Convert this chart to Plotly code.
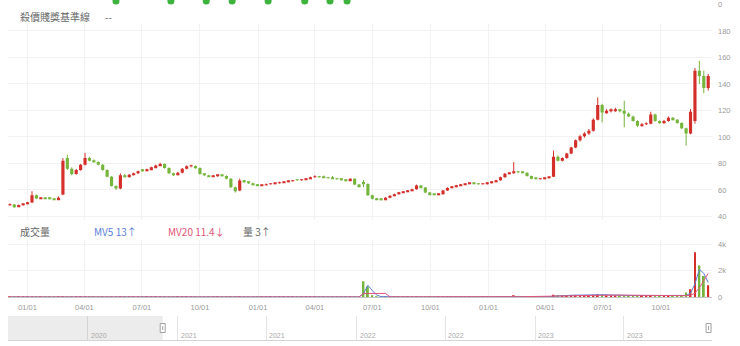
import pandas as pd
import plotly.graph_objects as go

# ---- data -----------------------------------------------------------------
week_dates = pd.date_range("2020-12-04", periods=159, freq="7D")

opens = [
    48.5, 49.0, 47.5, 48.5, 49.3, 50.5, 56.0, 53.5, 53.8, 53.4,
    53.2, 52.8, 56.5, 84.0, 76.0, 72.0, 75.0, 79.0, 84.0, 82.0,
    81.0, 79.0, 75.0, 70.0, 63.0, 61.0, 71.0, 70.0, 71.5, 72.5,
    75.0, 74.5, 75.5, 77.0, 78.5, 79.5, 76.5, 72.5, 71.5, 73.0,
    76.0, 77.8, 78.0, 76.5, 72.0, 71.0, 70.2, 70.5, 71.0, 70.5,
    68.5, 62.0, 59.5, 67.0, 65.8, 65.0, 64.0, 63.3, 63.5, 64.2,
    64.6, 65.0, 65.7, 66.0, 66.5, 67.5, 67.3, 67.8, 68.5, 69.5,
    70.0, 69.6, 69.2, 69.0, 68.6, 68.0, 67.3, 67.0, 68.4, 64.0,
    66.0, 64.5, 56.0, 53.3, 52.8, 52.6, 54.0, 55.6, 56.8, 58.0,
    58.6, 59.3, 60.5, 63.3, 61.8, 58.0, 56.6, 56.3, 56.8, 59.5,
    61.5, 62.3, 63.3, 64.0, 64.6, 65.0, 64.7, 64.3, 64.4, 65.2,
    66.0, 67.2, 69.5, 72.2, 72.6, 73.5, 73.4, 73.0, 70.5, 68.8,
    68.0, 68.4, 69.0, 70.0, 85.0, 82.0, 84.0, 87.5, 92.0, 97.5,
    100.5, 102.5, 104.7, 113.0, 124.0, 118.5, 119.8, 120.0, 120.3, 119.8,
    117.5, 115.5, 112.0, 108.5, 109.5, 110.0, 117.0, 112.0, 110.5, 112.0,
    114.5, 113.0, 110.5, 106.5, 102.5, 112.0, 150.0, 146.0, 137.0,
]
highs = [
    49.8, 49.3, 48.9, 49.6, 51.0, 59.0, 56.5, 54.3, 54.0, 53.8,
    53.5, 55.0, 84.0, 86.5, 77.0, 75.8, 79.6, 88.0, 85.0, 83.0,
    81.5, 79.5, 75.5, 70.5, 63.5, 72.5, 72.0, 72.0, 73.0, 74.5,
    75.6, 76.0, 77.5, 79.0, 80.5, 80.0, 77.0, 73.0, 73.5, 76.5,
    78.5, 79.0, 78.5, 77.0, 72.5, 71.5, 71.0, 71.5, 71.5, 71.0,
    69.0, 62.5, 68.5, 67.5, 66.3, 65.5, 64.5, 64.0, 64.8, 65.0,
    65.5, 66.2, 66.5, 67.0, 67.5, 68.0, 68.3, 69.0, 70.0, 71.0,
    70.5, 70.8, 69.8, 70.5, 69.0, 68.5, 67.8, 68.8, 68.6, 64.5,
    67.5, 65.0, 56.5, 53.8, 53.3, 54.5, 56.0, 57.2, 58.5, 59.0,
    59.8, 61.0, 64.0, 63.8, 62.2, 58.4, 57.0, 57.3, 60.0, 62.0,
    62.8, 63.8, 64.5, 65.0, 65.6, 65.5, 65.0, 64.8, 65.6, 66.5,
    67.6, 70.0, 72.8, 73.2, 81.0, 74.0, 73.8, 73.3, 70.8, 69.0,
    68.9, 69.4, 70.0, 89.7, 86.0, 84.5, 88.0, 92.5, 98.0, 101.5,
    103.5, 106.0, 114.0, 129.8, 125.0, 121.0, 121.5, 122.0, 121.0, 127.3,
    118.5, 116.0, 112.5, 110.5, 111.0, 119.0, 117.5, 112.5, 112.8, 115.5,
    115.0, 113.5, 111.0, 107.0, 121.0, 152.0, 157.4, 150.0, 147.5,
]
lows = [
    48.0, 46.5, 47.2, 48.1, 49.0, 50.2, 53.0, 53.1, 53.0, 52.8,
    52.4, 52.5, 56.0, 75.0, 71.0, 71.5, 74.5, 78.5, 81.5, 80.5,
    78.5, 74.5, 69.5, 62.5, 60.0, 60.5, 69.5, 69.5, 71.0, 72.0,
    73.8, 74.0, 75.0, 76.5, 78.0, 76.0, 72.0, 70.5, 71.0, 72.5,
    75.5, 77.0, 76.0, 71.5, 70.5, 69.8, 69.8, 70.0, 70.0, 68.0,
    61.5, 58.0, 59.0, 65.3, 64.5, 63.5, 63.0, 63.0, 63.2, 64.0,
    64.2, 64.7, 65.4, 65.7, 66.2, 66.8, 67.0, 67.5, 68.2, 69.2,
    69.2, 69.0, 68.7, 68.3, 67.7, 67.0, 66.5, 66.8, 63.5, 62.0,
    62.0, 55.5, 52.8, 52.3, 52.0, 52.3, 53.7, 55.3, 56.5, 57.7,
    58.3, 59.0, 60.2, 61.5, 57.5, 56.3, 55.9, 56.0, 56.5, 59.2,
    61.2, 62.0, 63.0, 63.7, 64.3, 64.3, 63.9, 64.0, 64.1, 64.9,
    65.7, 66.9, 69.2, 71.8, 72.2, 72.8, 72.5, 70.0, 68.0, 68.0,
    67.9, 68.1, 68.7, 69.8, 81.5, 81.5, 83.5, 87.0, 91.5, 96.5,
    99.5, 101.5, 104.0, 112.5, 111.0, 117.5, 118.5, 119.0, 118.5, 107.2,
    115.0, 111.5, 107.5, 108.0, 109.0, 109.5, 111.5, 110.0, 110.0, 111.5,
    112.5, 110.0, 106.0, 93.4, 102.0, 110.0, 140.0, 133.0, 135.0,
]
closes = [
    49.0, 47.5, 48.5, 49.3, 50.5, 56.0, 53.5, 53.8, 53.4, 53.2,
    52.8, 54.0, 82.0, 76.0, 72.0, 75.0, 79.0, 84.0, 82.0, 81.0,
    79.0, 75.0, 70.0, 63.0, 61.0, 71.0, 70.0, 71.5, 72.5, 74.0,
    74.5, 75.5, 77.0, 78.5, 79.5, 76.5, 72.5, 71.5, 73.0, 76.0,
    77.8, 78.0, 76.5, 72.0, 71.0, 70.2, 70.5, 71.0, 70.5, 68.5,
    62.0, 59.0, 67.0, 65.8, 65.0, 64.0, 63.3, 63.5, 64.2, 64.6,
    65.0, 65.7, 66.0, 66.5, 67.0, 67.3, 67.8, 68.5, 69.5, 70.0,
    69.6, 69.2, 69.0, 68.6, 68.0, 67.3, 67.0, 68.4, 64.0, 62.5,
    64.5, 56.0, 53.3, 52.8, 52.6, 54.0, 55.6, 56.8, 58.0, 58.6,
    59.3, 60.5, 63.3, 61.8, 58.0, 56.6, 56.3, 56.8, 59.5, 61.5,
    62.3, 63.3, 64.0, 64.6, 65.0, 64.7, 64.3, 64.4, 65.2, 66.0,
    67.2, 69.5, 72.2, 72.6, 73.5, 73.4, 73.0, 70.5, 68.4, 68.4,
    68.4, 69.0, 69.6, 85.0, 82.0, 84.0, 87.5, 92.0, 97.5, 100.5,
    102.5, 104.7, 113.0, 124.0, 118.5, 119.8, 120.0, 120.3, 119.8, 117.5,
    115.5, 112.0, 108.5, 109.5, 110.0, 117.0, 112.0, 110.5, 112.0, 114.5,
    113.0, 110.5, 106.5, 102.5, 119.0, 150.0, 146.0, 137.0, 146.0,
]

# trading volume (張) and its moving averages
volume = [
    12, 8, 10, 9, 14, 35, 18, 10, 8, 7,
    6, 9, 60, 55, 30, 20, 18, 40, 25, 15,
    14, 18, 22, 30, 25, 45, 20, 12, 10, 11,
    9, 10, 12, 14, 15, 16, 20, 14, 12, 15,
    13, 10, 9, 16, 12, 8, 7, 8, 9, 10,
    18, 22, 35, 15, 10, 9, 8, 7, 8, 9,
    8, 9, 8, 7, 8, 9, 10, 12, 14, 11,
    9, 8, 8, 7, 9, 8, 7, 10, 25, 40,
    1200, 800, 120, 40, 25, 18, 15, 12, 14, 12,
    10, 14, 30, 20, 25, 15, 10, 9, 18, 22,
    15, 12, 14, 12, 10, 9, 8, 9, 12, 15,
    20, 40, 60, 45, 90, 40, 25, 30, 35, 30,
    25, 40, 60, 180, 120, 110, 130, 150, 160, 170,
    150, 140, 180, 220, 190, 150, 120, 110, 100, 160,
    120, 110, 130, 100, 90, 140, 110, 90, 80, 100,
    90, 80, 70, 350, 600, 3400, 2400, 1600, 900,
]
mv5 = [
    10, 10, 10, 10, 11, 15, 17, 17, 17, 16,
    10, 10, 20, 30, 35, 35, 37, 33, 27, 24,
    20, 20, 20, 22, 22, 28, 28, 26, 22, 20,
    12, 10, 11, 11, 12, 13, 15, 16, 15, 15,
    15, 13, 12, 12, 12, 11, 10, 10, 9, 8,
    10, 13, 18, 20, 20, 18, 15, 10, 9, 9,
    8, 8, 8, 8, 8, 8, 8, 9, 10, 11,
    11, 11, 10, 9, 8, 8, 8, 8, 12, 18,
    260, 900, 500, 150, 40, 25, 20, 16, 14, 13,
    12, 12, 16, 18, 22, 20, 18, 14, 12, 14,
    14, 14, 14, 13, 12, 11, 10, 10, 10, 11,
    13, 20, 30, 40, 55, 50, 45, 40, 35, 30,
    30, 32, 38, 70, 100, 120, 130, 140, 150, 160,
    160, 155, 160, 180, 190, 180, 160, 140, 120, 130,
    130, 120, 120, 115, 110, 115, 115, 110, 100, 95,
    95, 90, 80, 130, 300, 1000, 2100, 1800, 1100,
]
mv20 = [
    11, 11, 11, 11, 11, 12, 12, 13, 13, 13,
    13, 13, 15, 18, 20, 21, 22, 23, 24, 24,
    24, 24, 24, 24, 24, 25, 25, 24, 23, 22,
    20, 19, 18, 17, 16, 15, 15, 15, 14, 14,
    14, 14, 13, 13, 13, 13, 12, 12, 11, 11,
    12, 12, 13, 13, 13, 13, 13, 12, 12, 11,
    11, 10, 10, 9, 9, 9, 9, 9, 9, 9,
    9, 9, 9, 9, 9, 9, 9, 9, 10, 11,
    280, 290, 290, 290, 285, 280, 20, 18, 16, 15,
    14, 13, 13, 14, 15, 15, 15, 15, 15, 15,
    15, 15, 14, 14, 13, 13, 12, 12, 12, 12,
    12, 14, 18, 22, 28, 32, 34, 36, 38, 40,
    40, 42, 45, 55, 65, 75, 85, 95, 105, 115,
    125, 135, 140, 150, 155, 160, 160, 158, 155, 150,
    145, 140, 135, 130, 125, 120, 118, 115, 112, 110,
    108, 105, 100, 110, 140, 300, 700, 1200, 1800,
]

# signal markers of the strip above the price panel
signal_dates = ["2021-05-21", "2021-08-16", "2021-10-11", "2021-11-21",
                "2022-01-17", "2022-03-16", "2022-04-25", "2022-05-22"]
signal_level = 1.0

price_ticks = [40, 60, 80, 100, 120, 140, 160, 180]
vol_ticks = [0, 2000, 4000]
vol_tick_text = ["0", "2k", "4k"]
quarter_ticks = ["2021-01-01", "2021-04-01", "2021-07-01", "2021-10-01",
                 "2022-01-01", "2022-04-01", "2022-07-01", "2022-10-01",
                 "2023-01-01", "2023-04-01", "2023-07-01", "2023-10-01"]
nav_ticks = ["2020-07-01", "2021-01-01", "2021-07-01", "2022-01-01",
             "2022-07-01", "2023-01-01", "2023-07-01"]
nav_tick_text = ["2020", "2021", "2021", "2022", "2022", "2023", "2023"]

view_start, view_end = "2020-12-01", "2023-12-21"
nav_start, nav_end = "2020-01-20", "2023-12-28"

# ---- styling --------------------------------------------------------------
UP = "#d42f2b"
DOWN = "#76b53d"
MV5_COLOR = "#5b7fd8"
MV20_COLOR = "#e0557a"
GRID = "#f2f2f2"
LATIN = "Liberation Sans, Arial, sans-serif"
TICK_FONT = dict(family=LATIN, size=7.5, color="#9a9a9a")
CJK = "Noto Sans CJK TC, Noto Sans CJK SC, sans-serif"
DAY_MS = 86400000
PAPER_H = 341  # drawable height used to place panels by pixel row


def frac(px):
    """Paper fraction for a pixel row measured from the top."""
    return 1 - px / PAPER_H


is_up = [c >= o for o, c in zip(opens, closes)]
candle_colors = [UP if u else DOWN for u in is_up]
body_base = [min(o, c) for o, c in zip(opens, closes)]
body_size = [max(abs(c - o), 0.45) for o, c in zip(opens, closes)]

fig = go.Figure()

# candle wicks, one polyline per colour with gaps between candles
for want_up, color in ((True, UP), (False, DOWN)):
    wx, wy = [], []
    for d, lo, hi, u in zip(week_dates, lows, highs, is_up):
        if u == want_up:
            wx += [d, d, None]
            wy += [lo, hi, None]
    fig.add_trace(go.Scatter(
        x=wx, y=wy, mode="lines", line=dict(color=color, width=1),
        xaxis="x", yaxis="y", showlegend=False, hoverinfo="skip",
    ))

# candle bodies
fig.add_trace(go.Bar(
    x=week_dates, y=body_size, base=body_base, width=5 * DAY_MS,
    marker=dict(color=candle_colors, line=dict(width=0)),
    xaxis="x", yaxis="y", showlegend=False, hoverinfo="skip",
))

# volume panel
fig.add_trace(go.Bar(
    x=week_dates, y=volume, marker=dict(color=candle_colors, line=dict(width=0)),
    width=3 * DAY_MS, xaxis="x2", yaxis="y2", showlegend=False,
))
fig.add_trace(go.Scatter(
    x=week_dates, y=mv5, mode="lines", line=dict(color=MV5_COLOR, width=1),
    xaxis="x2", yaxis="y2", showlegend=False,
))
fig.add_trace(go.Scatter(
    x=week_dates, y=mv20, mode="lines", line=dict(color=MV20_COLOR, width=1),
    xaxis="x2", yaxis="y2", showlegend=False,
))

# signal strip: mostly scrolled above the page, only its lower edge shows
fig.add_trace(go.Scatter(
    x=signal_dates, y=[signal_level] * len(signal_dates), mode="markers",
    marker=dict(color="#3db33d", size=7, line=dict(width=0)),
    cliponaxis=False, xaxis="x4", yaxis="y3", showlegend=False,
))

# navigator strip (empty axis used for the overview bar)
fig.add_trace(go.Scatter(
    x=[nav_start, nav_end], y=[None, None], mode="lines",
    xaxis="x3", yaxis="y4", showlegend=False,
))

fig.update_layout(
    width=740, height=346,
    margin=dict(l=8, r=28, t=0, b=0, pad=0),
    paper_bgcolor="white", plot_bgcolor="white",
    showlegend=False, barmode="overlay",
    font=TICK_FONT,
    xaxis=dict(
        domain=[0, 1], anchor="y", type="date", range=[view_start, view_end],
        showticklabels=False, tickvals=quarter_ticks, showgrid=True,
        gridcolor=GRID, zeroline=False, showline=False, ticks="",
    ),
    xaxis2=dict(
        domain=[0, 1], anchor="y2", type="date", matches="x",
        tickvals=quarter_ticks, tickformat="%m/%d", tickfont=TICK_FONT,
        ticklabelstandoff=3,
        showgrid=True, gridcolor=GRID, showline=True, linecolor="#c4c4c4",
        linewidth=1, ticks="", zeroline=False,
    ),
    xaxis3=dict(
        domain=[0, 1], anchor="y4", type="date", range=[nav_start, nav_end],
        tickvals=nav_ticks, showticklabels=False,
        showgrid=True, gridcolor="#e4e4e4", showline=True, linecolor="#d4d4d4",
        ticks="", zeroline=False,
    ),
    xaxis4=dict(
        domain=[0, 1], anchor="y3", type="date", matches="x",
        showticklabels=False, showgrid=False, zeroline=False, showline=False,
        ticks="",
    ),
    yaxis=dict(
        domain=[frac(220), frac(23.4)], anchor="x", side="right",
        range=[37, 185], tickvals=price_ticks, tickfont=TICK_FONT,
        ticklabelstandoff=5, showgrid=True, gridcolor=GRID, zeroline=False,
        ticks="",
    ),
    yaxis2=dict(
        domain=[frac(297), frac(240)], anchor="x2", side="right",
        range=[0, 4300], tickvals=vol_ticks, ticktext=vol_tick_text,
        tickfont=TICK_FONT, ticklabelstandoff=5, showgrid=True, gridcolor=GRID,
        zeroline=False, ticks="",
    ),
    yaxis3=dict(
        domain=[frac(20), 1], anchor="x4", side="right", range=[-4.7, 1.001],
        tickvals=[0], tickfont=TICK_FONT, ticklabelstandoff=5,
        ticklabeloverflow="allow",
        showgrid=False, zeroline=False, ticks="", showline=False,
    ),
    yaxis4=dict(
        domain=[frac(340), frac(316)], anchor="x3", range=[0, 1],
        visible=False,
    ),
)

# navigator year labels, just right of each half-year divider
for tick, label in zip(nav_ticks, nav_tick_text):
    fig.add_annotation(
        text=label, xref="x3", yref="y4", x=tick, y=0,
        xanchor="left", yanchor="bottom", xshift=1, yshift=-1,
        showarrow=False, font=dict(family=LATIN, size=7, color="#a8a8a8"),
    )

# shaded part of the navigator outside the visible window, plus its handles
fig.add_shape(type="rect", xref="x3", yref="y4", x0=nav_start, x1=view_start,
              y0=0, y1=1, fillcolor="rgba(0,0,0,0.075)", line=dict(width=0),
              layer="above")
for edge in (view_start, view_end):
    fig.add_shape(type="rect", xref="x3", yref="y4", xsizemode="pixel",
                  ysizemode="pixel", xanchor=edge, yanchor=0.5,
                  x0=-2.5, x1=2.5, y0=-4.5, y1=4.5,
                  fillcolor="white", line=dict(color="#a0a0a0", width=1),
                  layer="above")
    fig.add_shape(type="line", xref="x3", yref="y4", xsizemode="pixel",
                  ysizemode="pixel", xanchor=edge, yanchor=0.5,
                  x0=0, x1=0, y0=-2, y1=2,
                  line=dict(color="#a0a0a0", width=1), layer="above")


# panel captions
def caption(text, x_px, y_px, color="#666666"):
    fig.add_annotation(
        text=text, xref="paper", yref="paper",
        x=(x_px - 8) / 704, y=frac(y_px),
        xanchor="left", yanchor="middle", showarrow=False,
        font=dict(family=CJK, size=10, color=color),
    )


caption("殺價賤獎基準線", 18, 16)
caption("--", 103, 16)
caption("成交量", 18, 231)
caption("MV5 13↑", 92, 231, MV5_COLOR)
caption("MV20 11.4↓", 166, 231, MV20_COLOR)
caption("量 3↑", 241, 231)

fig.write_html("out.html")
